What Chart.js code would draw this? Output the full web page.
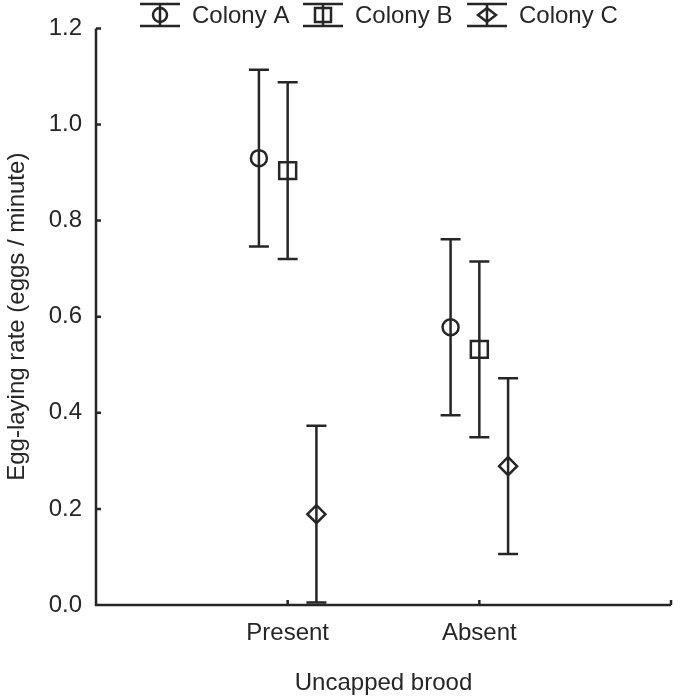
<!DOCTYPE html>
<html>
<head>
<meta charset="utf-8">
<script src="https://cdn.jsdelivr.net/npm/chart.js@4.4.1/dist/chart.umd.min.js"></script>
<style>
  html, body { margin: 0; padding: 0; background: #fff; overflow: hidden; }
  #wrap { width: 685px; height: 696px; position: relative; }
  canvas { display: block; }
</style>
</head>
<body>
<div id="wrap"><canvas id="chart"></canvas></div>
<script>
// Egg-laying rate by colony, with / without uncapped brood
const categories = ['Present', 'Absent'];
const colonies = ['Colony A', 'Colony B', 'Colony C'];
const markers = ['circle', 'rect', 'rectRot'];
const offsets = [-0.15, 0, 0.15];

const colonyA = [0.930, 0.578];
const colonyB = [0.904, 0.532];
const colonyC = [0.189, 0.289];

const errA = [0.184, 0.183];
const errB = [0.184, 0.183];
const errC = [0.184, 0.183];

const yTicks = [0, 0.2, 0.4, 0.6, 0.8, 1.0, 1.2];

const INK = '#262626';
const FONT = "'Liberation Sans', Arial, sans-serif";

const means = [colonyA, colonyB, colonyC];
const errs = [errA, errB, errC];
const radii = { circle: 8, rect: 12, rectRot: 9 };

const datasets = colonies.map((name, i) => ({
  label: name,
  data: means[i].map((v, j) => ({ x: j + 1 + offsets[i], y: v, err: errs[i][j] })),
  pointStyle: markers[i],
  pointRadius: radii[markers[i]],
  pointBorderWidth: 2.5,
  pointBorderColor: INK,
  pointBackgroundColor: 'rgba(0,0,0,0)',
  showLine: false,
}));

// error bars, read from each point's err through the y scale
const errorBars = {
  id: 'errorBars',
  beforeDatasetsDraw(chart) {
    const { ctx, scales: { x, y } } = chart;
    ctx.save();
    ctx.strokeStyle = INK;
    ctx.lineWidth = 2.5;
    chart.data.datasets.forEach(ds => {
      ds.data.forEach(p => {
        const px = x.getPixelForValue(p.x);
        const top = y.getPixelForValue(p.y + p.err);
        const bot = y.getPixelForValue(p.y - p.err);
        ctx.beginPath();
        ctx.moveTo(px, top); ctx.lineTo(px, bot);
        ctx.moveTo(px - 10, top); ctx.lineTo(px + 10, top);
        ctx.moveTo(px - 10, bot); ctx.lineTo(px + 10, bot);
        ctx.stroke();
      });
    });
    ctx.restore();
  }
};

// axis lines with short inward ticks
const axisFrame = {
  id: 'axisFrame',
  afterDraw(chart) {
    const { ctx, chartArea: a, scales: { x, y } } = chart;
    ctx.save();
    ctx.strokeStyle = INK;
    ctx.lineWidth = 2.5;
    ctx.beginPath();
    ctx.moveTo(a.left, a.top); ctx.lineTo(a.left, a.bottom); ctx.lineTo(a.right, a.bottom);
    y.ticks.forEach(t => {
      const py = y.getPixelForValue(t.value);
      ctx.moveTo(a.left, py); ctx.lineTo(a.left + 5, py);
    });
    x.ticks.forEach(t => {
      const px = x.getPixelForValue(t.value);
      ctx.moveTo(px, a.bottom); ctx.lineTo(px, a.bottom - 5);
    });
    ctx.stroke();
    ctx.restore();
  }
};

// legend: little error-bar icons with the marker on them
const errLegend = {
  id: 'errLegend',
  afterDraw(chart) {
    const ctx = chart.ctx;
    const centers = [160, 323, 487];
    const cy = 15;
    ctx.save();
    ctx.strokeStyle = INK;
    ctx.fillStyle = INK;
    ctx.lineWidth = 2.5;
    ctx.font = '24px ' + FONT;
    ctx.textBaseline = 'middle';
    colonies.forEach((name, i) => {
      const cx = centers[i];
      ctx.beginPath();
      ctx.moveTo(cx - 20, 4); ctx.lineTo(cx + 20, 4);
      ctx.moveTo(cx - 20, 26); ctx.lineTo(cx + 20, 26);
      ctx.moveTo(cx, 4); ctx.lineTo(cx, 26);
      ctx.stroke();
      ctx.beginPath();
      if (markers[i] === 'circle') {
        ctx.arc(cx, cy, 7, 0, Math.PI * 2);
      } else if (markers[i] === 'rect') {
        ctx.rect(cx - 8, cy - 7, 16, 14);
      } else {
        ctx.moveTo(cx - 9, cy); ctx.lineTo(cx, cy - 7); ctx.lineTo(cx + 9, cy); ctx.lineTo(cx, cy + 7); ctx.closePath();
      }
      ctx.stroke();
      ctx.fillText(name, cx + 32, cy + 1);
    });
    ctx.restore();
  }
};

new Chart(document.getElementById('chart'), {
  type: 'scatter',
  data: { datasets },
  options: {
    responsive: true,
    maintainAspectRatio: false,
    animation: false,
    layout: { autoPadding: false, padding: { top: 27, right: 4, left: 0, bottom: 0 } },
    plugins: { legend: { display: false }, tooltip: { enabled: false } },
    scales: {
      x: {
        type: 'linear',
        min: 0, max: categories.length + 1,
        afterBuildTicks: s => { s.ticks = [0, 1, 2, 3].map(v => ({ value: v })); },
        afterFit: s => { s.height = 91; },
        grid: { display: false, drawTicks: false },
        border: { display: false },
        ticks: {
          padding: 14,
          color: INK,
          font: { family: FONT, size: 24 },
          callback: v => categories[v - 1] || ''
        },
        title: {
          display: true,
          text: 'Uncapped brood',
          color: INK,
          font: { family: FONT, size: 24, lineHeight: 1 },
          padding: { top: 0, bottom: 1 }
        }
      },
      y: {
        min: 0, max: 1.2,
        afterBuildTicks: s => { s.ticks = yTicks.map(v => ({ value: v })); },
        afterFit: s => { s.width = 96; },
        grid: { display: false, drawTicks: false },
        border: { display: false },
        ticks: {
          padding: 14,
          color: INK,
          font: { family: FONT, size: 24 },
          callback: v => v.toFixed(1)
        },
        title: {
          display: true,
          text: 'Egg-laying rate (eggs / minute)',
          color: INK,
          font: { family: FONT, size: 24, lineHeight: 1.2 },
          padding: { top: 3, bottom: 0 }
        }
      }
    }
  },
  plugins: [errorBars, axisFrame, errLegend]
});
</script>
</body>
</html>
